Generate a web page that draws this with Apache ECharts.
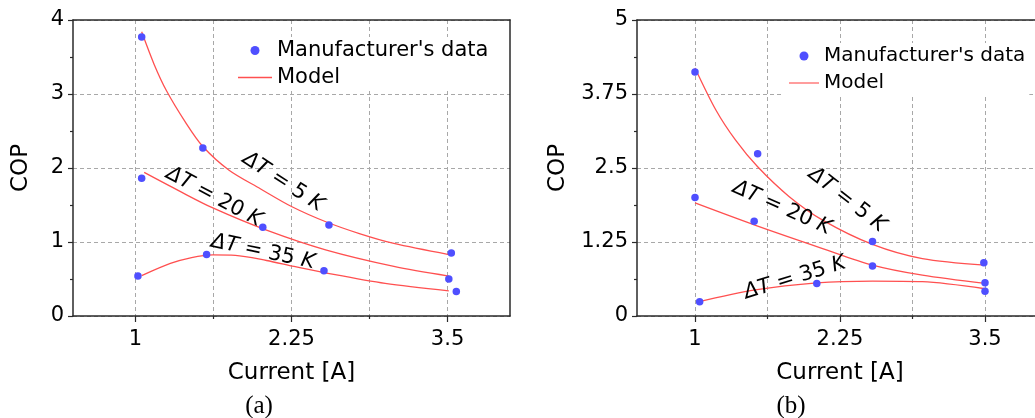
<!DOCTYPE html>
<html>
<head>
<meta charset="utf-8">
<script src="https://cdn.jsdelivr.net/npm/echarts@6/dist/echarts.min.js"></script>
<style>
html, body { margin: 0; padding: 0; background: #fff; }
#chart { width: 1035px; height: 418px; }
</style>
</head>
<body>
<div id="chart"></div>
<script>
// 横轴 (电流)
const xRange = [0.5, 4];
const xLabelValues = [1, 2.25, 3.5];
const xMinorValues = [1.625, 2.875];

// (a) 纵轴
const aYMax = 4;
const aYStep = 1;
// (a) 厂商数据 [电流, COP]
const aData5 = [[1.05, 3.77], [1.54, 2.27], [2.55, 1.23], [3.53, 0.85]];
const aData20 = [[1.05, 1.86], [2.02, 1.20], [3.51, 0.50]];
const aData35 = [[1.02, 0.54], [1.57, 0.83], [2.51, 0.61], [3.57, 0.33]];
// (a) 模型曲线
const aModel5 = [[1.05, 3.84], [1.15, 3.40], [1.25, 3.04], [1.4, 2.62], [1.54, 2.29], [1.75, 1.97], [2.0, 1.72], [2.25, 1.48], [2.53, 1.27], [2.8, 1.11], [3.07, 0.98], [3.51, 0.83]];
const aModel20 = [[1.07, 1.94], [1.35, 1.69], [1.62, 1.46], [2.05, 1.16], [2.53, 0.89], [3.07, 0.67], [3.51, 0.54]];
const aModel35 = [[1.05, 0.545], [1.28, 0.71], [1.45, 0.79], [1.62, 0.825], [1.8, 0.82], [2.05, 0.75], [2.27, 0.67], [2.53, 0.58], [3.0, 0.44], [3.51, 0.34]];

// (b) 纵轴
const bYMax = 5;
const bYStep = 1.25;
// (b) 厂商数据
const bData5 = [[1.0, 4.12], [1.54, 2.74], [2.53, 1.26], [3.49, 0.90]];
const bData20 = [[1.0, 2.0], [1.51, 1.60], [2.53, 0.845], [3.5, 0.56]];
const bData35 = [[1.04, 0.24], [2.05, 0.55], [3.5, 0.42]];
// (b) 模型曲线
const bModel5 = [[1.0, 4.19], [1.18, 3.48], [1.35, 2.97], [1.54, 2.52], [1.81, 2.02], [2.10, 1.62], [2.53, 1.21], [2.96, 0.97], [3.5, 0.86]];
const bModel20 = [[1.0, 1.91], [1.51, 1.54], [2.10, 1.14], [2.53, 0.86], [2.96, 0.69], [3.5, 0.55]];
const bModel35 = [[1.01, 0.23], [1.52, 0.44], [2.05, 0.56], [2.53, 0.59], [2.96, 0.58], [3.5, 0.46]];

const dataName = "Manufacturer's data";
const modelName = 'Model';

const FONT = 'DejaVu Sans';
const RED = '#ff5050';
const BLUE = '#4f4fff';
const AXIS_COLOR = '#2a2a2a';
const gridLine = { show: true, lineStyle: { color: '#a8a8a8', type: [4, 3], width: 1 } };

const myChart = echarts.init(document.getElementById('chart'))

// 每个面板的三条横轴：主轴、次刻度、顶边框
const makeXAxes = (gridIndex) => [
  {
    type: 'value', gridIndex, min: xRange[0], max: xRange[1], position: 'bottom',
    name: 'Current [A]', nameLocation: 'middle', nameGap: 46,
    nameTextStyle: { fontFamily: FONT, fontSize: 23, color: '#000' },
    axisLine: { show: true, onZero: false, lineStyle: { color: AXIS_COLOR, width: 1.5 } },
    axisTick: { show: true, customValues: xLabelValues, length: 6, lineStyle: { color: AXIS_COLOR, width: 1.2 } },
    axisLabel: { show: true, customValues: xLabelValues, margin: 13, fontFamily: FONT, fontSize: 21, color: '#000' },
    splitLine: gridLine
  },
  {
    type: 'value', gridIndex, min: xRange[0], max: xRange[1], position: 'bottom',
    axisLine: { show: false },
    axisTick: { show: true, customValues: xMinorValues, length: 3, lineStyle: { color: AXIS_COLOR, width: 1.2 } },
    axisLabel: { show: false },
    splitLine: gridLine
  },
  {
    type: 'value', gridIndex, min: xRange[0], max: xRange[1], position: 'top',
    axisLine: { show: true, onZero: false, lineStyle: { color: AXIS_COLOR, width: 1.5 } },
    axisTick: { show: false }, axisLabel: { show: false }, splitLine: { show: false }
  }
]

const makeYAxis = (gridIndex, max, step, nameGap) => ({
  type: 'value', gridIndex, min: 0, max, interval: step, position: 'left',
  name: 'COP', nameLocation: 'middle', nameGap,
  nameTextStyle: { fontFamily: FONT, fontSize: 23, color: '#000' },
  axisLine: { show: true, onZero: false, lineStyle: { color: AXIS_COLOR, width: 1.5 } },
  axisTick: { show: true, length: 5, lineStyle: { color: AXIS_COLOR, width: 1.2 } },
  minorTick: { show: true, splitNumber: 2, length: 3, lineStyle: { color: AXIS_COLOR, width: 1.2 } },
  axisLabel: { margin: 9, fontFamily: FONT, fontSize: 21, color: '#000' },
  splitLine: gridLine
})

const scatter = (xi, yi, data) => ({
  type: 'scatter', name: dataName, xAxisIndex: xi, yAxisIndex: yi, data,
  symbol: 'circle', symbolSize: 7.5, itemStyle: { color: BLUE, opacity: 1 }, z: 4
})
const model = (xi, yi, data) => ({
  type: 'line', name: modelName, xAxisIndex: xi, yAxisIndex: yi, data,
  smooth: 0.3, symbol: 'none', showSymbol: false,
  lineStyle: { color: RED, width: 1.3 }, itemStyle: { color: RED }, z: 3
})

const legendBox = (left, top, fontSize, itemWidth, itemGap, padding) => ({
  orient: 'vertical', left, top, padding, itemGap,
  itemWidth, itemHeight: 9, backgroundColor: '#fff', symbolKeepAspect: true,
  data: [
    { name: dataName, icon: 'circle' },
    { name: modelName, icon: 'path://M0,0H40V1.5H0Z' }
  ],
  textStyle: { fontFamily: FONT, fontSize, lineHeight: fontSize, color: '#000' },
  selectedMode: false
})

// ΔT 标注
const note = (x, y, deg, t) => ({
  type: 'text', x, y, rotation: deg * Math.PI / 180, z: 10,
  style: {
    text: '{i|ΔT} = ' + t + ' {i|K}',
    rich: { i: { fontStyle: 'italic', fontFamily: FONT, fontSize: 21, fill: '#000' } },
    fontFamily: FONT, fontSize: 21, fill: '#000', align: 'center', verticalAlign: 'middle'
  }
})
const caption = (x, text) => ({
  type: 'text', x, y: 406, z: 10,
  style: { text, fontFamily: 'Liberation Serif', fontSize: 25, fill: '#000', align: 'center', verticalAlign: 'middle' }
})

const options = {
  backgroundColor: '#fff',
  animation: false,
  grid: [
    { left: 73, top: 20, width: 437, height: 296, outerBoundsMode: 'none' },
    { left: 637, top: 20, width: 406, height: 296, outerBoundsMode: 'none' }
  ],
  xAxis: [...makeXAxes(0), ...makeXAxes(1)],
  yAxis: [
    makeYAxis(0, aYMax, aYStep, 40),
    {
      type: 'value', gridIndex: 0, min: 0, max: aYMax, position: 'right',
      axisLine: { show: true, onZero: false, lineStyle: { color: AXIS_COLOR, width: 1.5 } },
      axisTick: { show: false }, axisLabel: { show: false }, splitLine: { show: false }
    },
    makeYAxis(1, bYMax, bYStep, 67)
  ],
  legend: [
    legendBox(238, 37, 21, 34, 6, [3, 4, 3, 0]),
    legendBox(783, 43, 20, 30, 7, [3, 4, 3, 6])
  ],
  series: [
    model(0, 0, aModel5), model(0, 0, aModel20), model(0, 0, aModel35),
    scatter(0, 0, aData5), scatter(0, 0, aData20), scatter(0, 0, aData35),
    model(3, 2, bModel5), model(3, 2, bModel20), model(3, 2, bModel35),
    scatter(3, 2, bData5), scatter(3, 2, bData20), scatter(3, 2, bData35)
  ],
  graphic: [
    note(283, 182, -33, '5'), note(214, 197, -28, '20'), note(263, 252, -12, '35'),
    note(847, 200, -38, '5'), note(782, 208, -24, '20'), note(795, 278, 17, '35'),
    caption(259, '(a)'), caption(791, '(b)')
  ]
}
myChart.setOption(options)
</script>
</body>
</html>
